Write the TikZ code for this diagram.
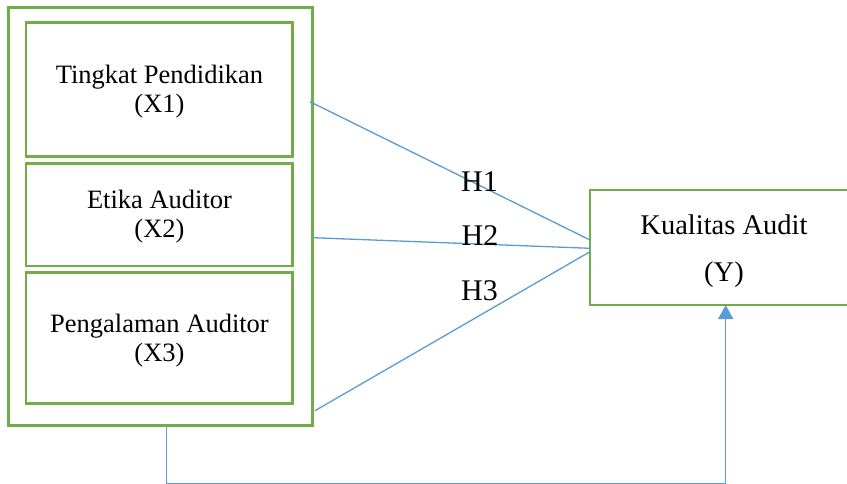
\documentclass[tikz,border=0pt]{standalone}
\usepackage{fontspec}
\setmainfont{Liberation Serif}
\usetikzlibrary{arrows.meta,calc}
\definecolor{boxgreen}{HTML}{70AD47}
\definecolor{linkblue}{HTML}{5B9BD5}
\begin{document}
\begin{tikzpicture}[x=1pt,y=-1pt,
  gbox/.style={draw=boxgreen,line width=2.7pt,rectangle,inner sep=0pt,outer sep=0pt},
  gline/.style={draw=boxgreen,line width=2.7pt},
  lbl/.style={anchor=base,inner sep=0pt,font=\fontsize{26.5}{30}\selectfont},
  ylbl/.style={anchor=base,inner sep=0pt,font=\fontsize{28.5}{32}\selectfont},
  hlbl/.style={anchor=base,inner sep=0pt,font=\fontsize{30}{34}\selectfont},
  conn/.style={draw=linkblue,line width=1.3pt}]
\useasboundingbox (0,0) rectangle (847,484);
% outer frame
\node[gbox,minimum width=304.4pt,minimum height=418.4pt] (outer) at (160.5,216.5) {};
% inner boxes
\node[gbox,minimum width=266.3pt,minimum height=134.4pt] (b1) at (159.2,89.5) {};
\node[gbox,minimum width=266.3pt,minimum height=102.7pt] (b2) at (159.2,214.6) {};
\node[gbox,minimum width=266.3pt,minimum height=131pt] (b3) at (159.2,337.8) {};
\node[lbl] (t1a) at (159.5,83.3) {Tingkat Pendidikan};
\node[lbl] (t1b) at (159.5,112.8) {(X1)};
\node[lbl] (t2a) at (159.5,208.3) {Etika Auditor};
\node[lbl] (t2b) at (159.5,237.8) {(X2)};
\node[lbl] (t3a) at (159.5,332) {Pengalaman Auditor};
\node[lbl] (t3b) at (159.5,361.5) {(X3)};
% dependent box (right side runs off the page)
\node[rectangle,inner sep=0pt,outer sep=0pt,minimum width=257pt,minimum height=115pt] (Y) at (718.5,247.5) {};
\draw[gline] (Y.north east) -- (Y.north west) -- (Y.south west) -- (Y.south east);
\node[ylbl] (ya) at (724,234) {Kualitas Audit};
\node[ylbl] (yb) at (724,281.7) {(Y)};
\coordinate (yin) at ($(Y.south west)+(135.7,0)$);
% connectors
\coordinate (s1) at (310,101.7);
\coordinate (s2) at (312.7,237.7);
\coordinate (s3) at (315,410.7);
\draw[conn] (s1) -- ($(Y.west)+(0,-7.5)$);
\draw[conn] (s2) -- ($(Y.west)+(0,0.8)$);
\draw[conn] (s3) -- ($(Y.west)+(0,4.2)$);
\node[hlbl] (h1) at (479.5,191.7) {H1};
\node[hlbl] (h2) at (480,245.7) {H2};
\node[hlbl] (h3) at (479.5,301) {H3};
\coordinate (d0) at (166.7,425.7);
\coordinate (d1) at (166.7,483.6);
\draw[conn,-{Triangle[width=15pt,length=14pt]}] (d0) -- (d1) -| (yin);
\end{tikzpicture}
\end{document}
